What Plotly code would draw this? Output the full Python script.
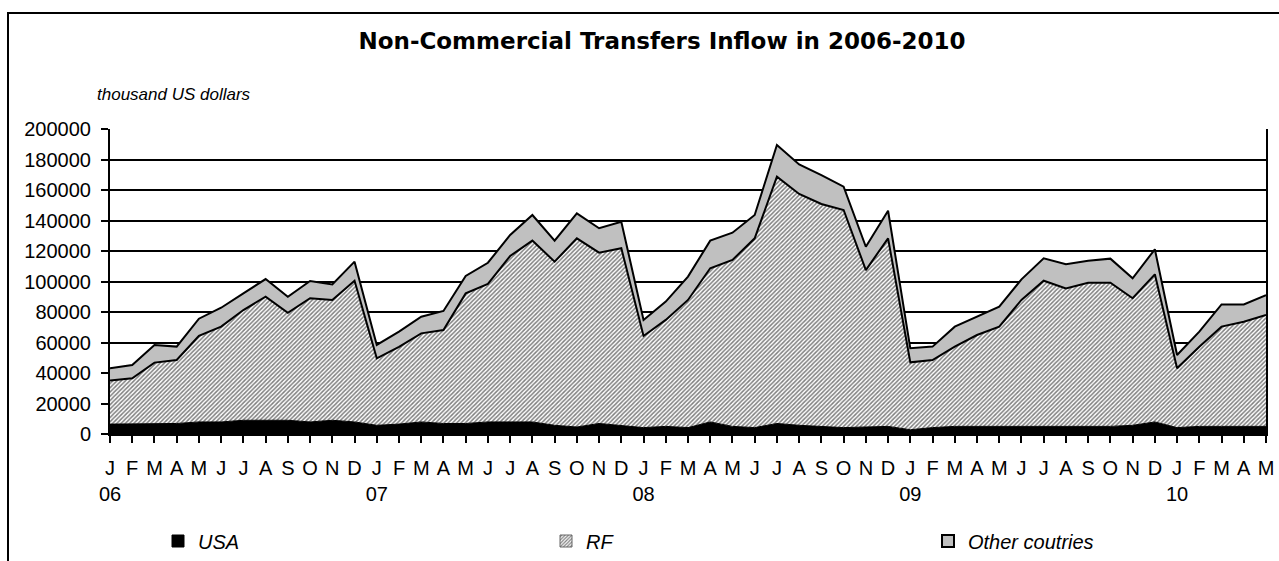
import plotly.graph_objects as go

# ---- data (thousand US dollars), Jan 2006 .. May 2010 ----
month_letters = ["J", "F", "M", "A", "M", "J", "J", "A", "S", "O", "N", "D"]
year_labels = ["06", "07", "08", "09", "10"]
n_months = 53

usa = [6500, 6500, 6500, 6900, 7900, 7900, 9000, 9000, 9000, 7900, 9000, 7900,
       5700, 6500, 7900, 6900, 6900, 7900, 7900, 7900, 5700, 4600, 6900, 5700,
       4200, 5000, 4200, 7900, 5000, 4200, 6900, 5700, 5000, 4200, 4600, 5000,
       2800, 4200, 5000, 5000, 5000, 4600, 5000, 5000, 5000, 5000, 5700, 7900,
       4200, 5000, 5000, 5000, 5000]

rf = [28500, 30000, 40300, 41600, 56400, 62500, 72300, 81000, 70500, 81100, 78900, 92600,
      43900, 50700, 58100, 61300, 85300, 90500, 108800, 118900, 107300, 123700, 112000, 116100,
      60100, 69800, 83700, 100800, 109100, 124100, 161800, 151700, 145800, 142700, 102900, 123300,
      44200, 44300, 52300, 59900, 65400, 83300, 95500, 90500, 94200, 94200, 83300, 96800,
      38900, 52200, 65400, 68600, 73000]

other = [8100, 8700, 11600, 8800, 11300, 12400, 10900, 11600, 10500, 11300, 10200, 12500,
         8800, 9900, 10900, 12500, 11400, 13900, 13800, 16800, 13800, 16400, 16000, 17400,
         10500, 12000, 15300, 18100, 17900, 15300, 20800, 19400, 19000, 15300, 15300, 18100,
         9200, 8800, 13100, 12000, 13100, 13500, 14700, 15800, 14400, 15800, 13100, 16400,
         8700, 9900, 14600, 11400, 13100]

series_names = ["USA", "RF", "Other coutries"]
y_ticks = [0, 20000, 40000, 60000, 80000, 100000, 120000, 140000, 160000, 180000, 200000]

x = list(range(n_months))
ticktext = []
for i in x:
    m = month_letters[i % 12]
    if i % 12 == 0:
        ticktext.append(f"{m}<br>{year_labels[i // 12]}")
    else:
        ticktext.append(m)

FONT = "Liberation Sans, Arial, sans-serif"
RF_PATTERN = dict(shape="/", fgcolor="black", bgcolor="white", size=3, solidity=0.5)

fig = go.Figure()

fig.add_trace(go.Scatter(
    x=x, y=usa, name=series_names[0], stackgroup="one", mode="lines",
    line=dict(color="black", width=1), fillcolor="black", showlegend=False))
fig.add_trace(go.Scatter(
    x=x, y=rf, name=series_names[1], stackgroup="one", mode="lines",
    line=dict(color="black", width=2), fillpattern=RF_PATTERN, showlegend=False))
fig.add_trace(go.Scatter(
    x=x, y=other, name=series_names[2], stackgroup="one", mode="lines",
    line=dict(color="black", width=2), fillcolor="#c0c0c0", showlegend=False))

# legend-only entries (square swatches like the original), placed off the visible range
legend_styles = [
    dict(color="black", line=dict(color="black", width=1)),
    dict(color="white", line=dict(color="#666666", width=1), pattern=RF_PATTERN),
    dict(color="#c0c0c0", line=dict(color="black", width=2)),
]
legend_ids = ["legend", "legend2", "legend3"]
for name, mk, lg in zip(series_names, legend_styles, legend_ids):
    fig.add_trace(go.Bar(x=[-10], y=[0], name=name, marker=mk, hoverinfo="skip",
                         legend=lg))

# the page's body margin is removed (post_script), so figure pixels == page pixels
W, H = 1279, 561
L, R, T, B = 110, 13, 129, 561 - 434
pw = W - L - R
ph = H - T - B

def px_x(page_x):
    return (page_x - L) / pw

def px_y(page_y):
    return (H - B - page_y) / ph

def legend_box(page_x):
    return dict(orientation="h", x=px_x(page_x), xanchor="left",
                y=px_y(541), yanchor="middle",
                font=dict(family=FONT, size=20, style="italic", color="black"),
                bgcolor="rgba(0,0,0,0)")

fig.update_layout(
    width=W, height=H,
    margin=dict(l=L, r=R, t=T, b=B, autoexpand=False),
    paper_bgcolor="white", plot_bgcolor="white",
    font=dict(family=FONT, color="black", size=20),
    title=dict(text="Non-Commercial Transfers Inflow in 2006-2010",
               x=px_x(662), xref="paper", xanchor="center",
               y=1 - 41 / H, yanchor="middle",
               font=dict(family="DejaVu Sans, sans-serif", size=23, weight="bold",
                         color="black")),
    showlegend=True,
    legend=legend_box(158),
    legend2=legend_box(546),
    legend3=legend_box(928),
    xaxis=dict(range=[0, n_months - 1], tickmode="array", tickvals=x, ticktext=ticktext,
               ticks="outside", ticklen=7, tickwidth=2, tickcolor="black",
               showline=True, linecolor="black", linewidth=2,
               showgrid=False, zeroline=False, ticklabelstandoff=8,
               tickfont=dict(family=FONT, size=20), fixedrange=True),
    yaxis=dict(range=[0, 200000], tickmode="array", tickvals=y_ticks,
               ticktext=[str(v) for v in y_ticks],
               ticks="outside", ticklen=7, tickwidth=2, tickcolor="black",
               showline=True, linecolor="black", linewidth=2, mirror=True,
               showgrid=True, gridcolor="black", gridwidth=2, zeroline=False,
               ticklabelstandoff=6, tickfont=dict(family=FONT, size=20), fixedrange=True),
    annotations=[dict(text="<i>thousand US dollars</i>", xref="paper", yref="paper",
                      x=px_x(95), y=px_y(94), xanchor="left",
                      yanchor="middle", showarrow=False,
                      font=dict(family=FONT, size=17, color="black"))],
    shapes=[dict(type="rect", xref="paper", yref="paper",
                 x0=px_x(8), x1=px_x(1320),
                 y0=px_y(13), y1=px_y(620),
                 line=dict(color="black", width=2), fillcolor="rgba(0,0,0,0)",
                 layer="below")],
)

fig.write_html(
    "out.html",
    config={"displayModeBar": False},
    post_script="document.body.style.margin='0';"
                "document.documentElement.style.overflow='hidden';",
)
